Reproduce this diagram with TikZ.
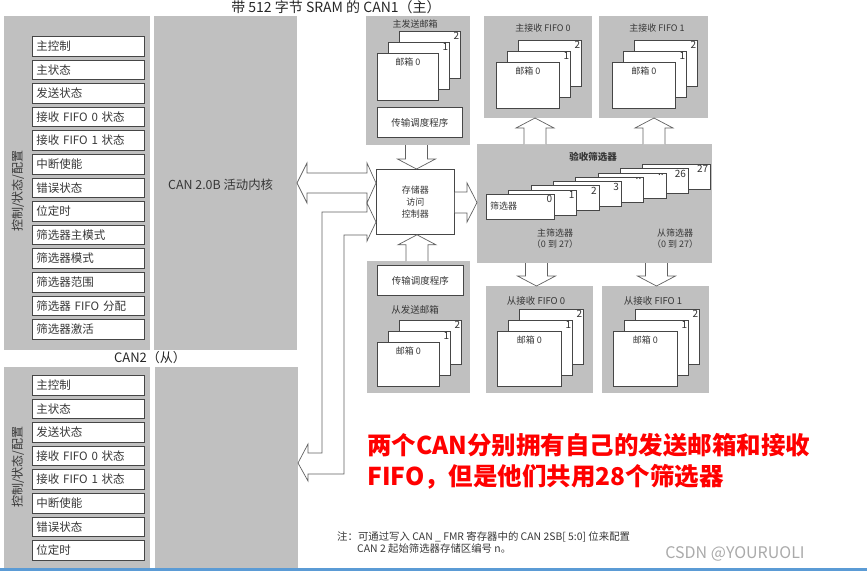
\documentclass[tikz,border=0pt]{standalone}
\usepackage{fontspec}
\setmainfont{Noto Sans CJK SC}
\usetikzlibrary{calc}
\definecolor{panelgray}{RGB}{192,192,192}
\definecolor{edgegray}{RGB}{70,70,70}
\definecolor{textgray}{RGB}{55,55,55}
\definecolor{barblue}{RGB}{91,155,213}
\definecolor{markgray}{RGB}{170,170,170}
% vertical block arrow: x centre, tail anchor, tip anchor, head offset
\newcommand\fatv[4]{%
  \draw[fatarrow] let \p1=(#2), \p2=(#3) in
    (#1pt-11pt,\y1) -- (#1pt-11pt,\y2#4) -- (#1pt-19pt,\y2#4) -- (#1pt,\y2)
    -- (#1pt+19pt,\y2#4) -- (#1pt+11pt,\y2#4) -- (#1pt+11pt,\y1);}
% horizontal block arrow: y centre (canvas), tail anchor, tip anchor, head offset
\newcommand\fath[4]{%
  \draw[fatarrow] let \p1=(#2), \p2=(#3) in
    (\x1,#1pt+10.5pt) -- (\x2#4,#1pt+10.5pt) -- (\x2#4,#1pt+19.5pt) -- (\x2,#1pt)
    -- (\x2#4,#1pt-19.5pt) -- (\x2#4,#1pt-10.5pt) -- (\x1,#1pt-10.5pt);}
% three stacked mailboxes: name, x, y of box 0, width, height
\newcommand\mailstack[5]{%
  \foreach \k in {2,1}
    \node[mailbox,minimum width=#4pt,minimum height=#5pt,
      label={[numlbl,anchor=north east]north east:\k}] (#1\k) at ({#2+11*\k},{#3-11*\k}) {};
  \node[mailbox,minimum width=#4pt,minimum height=#5pt,
    label={[boxlbl,anchor=north,yshift=-5pt]north:邮箱 0}] (#10) at (#2,#3) {};}
\begin{document}
\begin{tikzpicture}[x=1pt,y=-1pt,
  panel/.style={fill=panelgray,draw=none,inner sep=0pt,outer sep=0pt,anchor=north west},
  regbox/.style={draw=edgegray,line width=0.8pt,fill=white,anchor=north west,minimum width=112pt,minimum height=19.5pt,inner xsep=4pt,inner ysep=0pt,text width=104pt,align=left,text=textgray,font=\fontsize{11.5}{13}\selectfont},
  mailbox/.style={draw=edgegray,line width=0.8pt,fill=white,anchor=north west,inner sep=0pt},
  numlbl/.style={inner sep=1.5pt,text=black!80,font=\fontsize{10}{11}\selectfont},
  boxlbl/.style={inner sep=0pt,text=textgray,font=\fontsize{9}{11}\selectfont},
  ttl/.style={inner sep=0pt,text=black!85,font=\fontsize{14}{16}\selectfont},
  sidelbl/.style={inner sep=0pt,rotate=90,text=textgray,font=\fontsize{12}{14}\selectfont},
  fatarrow/.style={draw=edgegray!85,fill=white,line width=0.7pt,line join=miter},
  redtxt/.style={inner sep=0pt,anchor=west,text=red,font=\bfseries\fontsize{24.5}{27}\selectfont},
  notetxt/.style={inner sep=0pt,anchor=west,text=textgray,font=\fontsize{10.4}{12}\selectfont}]
\path[use as bounding box] (0,0) rectangle (867,571);

% CAN1 and CAN2 panels
\node[panel,minimum width=146pt,minimum height=334pt] (cfg1) at (4,16) {};
\node[panel,minimum width=143pt,minimum height=334pt] (core1) at (154,16) {};
\node[panel,minimum width=146pt,minimum height=201pt] (cfg2) at (4,367) {};
\node[panel,minimum width=143pt,minimum height=201pt] (core2) at (155,367) {};
\node[ttl] (can1ttl) at (336,7) {带 512 字节 SRAM 的 CAN1（主）};
\node[ttl,font=\fontsize{13}{15}\selectfont] (can2ttl) at (150,358) {CAN2（从）};
\node[inner sep=0pt,anchor=west,text=textgray,font=\fontsize{12.4}{14}\selectfont] (core1txt) at (168,185) {CAN 2.0B 活动内核};
\node[sidelbl] (side1) at (18,191) {控制/状态/配置};
\node[sidelbl] (side2) at (18,467) {控制/状态/配置};
\foreach \txt [count=\i from 0] in {主控制,主状态,发送状态,接收 FIFO 0 状态,接收 FIFO 1 状态,中断使能,错误状态,位定时,筛选器主模式,筛选器模式,筛选器范围,筛选器 FIFO 分配,筛选器激活}
  \node[regbox] (regA\i) at (32,{36+23.6*\i}) {\txt};
\foreach \txt [count=\i from 0] in {主控制,主状态,发送状态,接收 FIFO 0 状态,接收 FIFO 1 状态,中断使能,错误状态,位定时}
  \node[regbox] (regB\i) at (32,{375+23.6*\i}) {\txt};

% mailboxes and FIFOs
\node[panel,minimum width=104pt,minimum height=129pt] (txmain) at (366,16) {};
\node[panel,minimum width=108pt,minimum height=102pt] (rxm0) at (484,16) {};
\node[panel,minimum width=109pt,minimum height=102pt] (rxm1) at (599,16) {};
\node[panel,minimum width=235pt,minimum height=119pt] (filt) at (477,144) {};
\node[panel,minimum width=107pt,minimum height=107pt] (rxs0) at (486,286) {};
\node[panel,minimum width=107pt,minimum height=107pt] (rxs1) at (602,286) {};
\node[panel,minimum width=103pt,minimum height=132pt] (txslave) at (367,261) {};
\node[boxlbl] (txmainlbl) at (415,24) {主发送邮箱};
\node[boxlbl] (rxm0lbl) at (543,28) {主接收 FIFO 0};
\node[boxlbl] (rxm1lbl) at (657,28) {主接收 FIFO 1};
\node[boxlbl,font=\fontsize{9.5}{11}\selectfont] (rxs0lbl) at (536,301) {从接收 FIFO 0};
\node[boxlbl,font=\fontsize{9.5}{11}\selectfont] (rxs1lbl) at (653,301) {从接收 FIFO 1};
\node[boxlbl,font=\fontsize{9.5}{11}\selectfont] (txslavelbl) at (415,310) {从发送邮箱};
\mailstack{txm}{377}{53}{61}{47}
\mailstack{rxma}{496}{62}{63}{46}
\mailstack{rxmb}{612}{62}{63}{46}
\mailstack{rxsa}{497}{331}{64}{55}
\mailstack{rxsb}{613}{331}{64}{55}
\mailstack{txs}{377}{342}{62}{44}
\node[mailbox,minimum width=85pt,minimum height=30pt,text=textgray,font=\fontsize{9.5}{11}\selectfont] (sched1) at (377,107) {传输调度程序};
\node[mailbox,minimum width=86pt,minimum height=30pt,text=textgray,font=\fontsize{9.5}{11}\selectfont] (sched2) at (377,265) {传输调度程序};
\node[mailbox,minimum width=78pt,minimum height=65pt,align=center,text=textgray,font=\fontsize{9}{12}\selectfont] (mem) at (376,169) {存储器\\访问\\控制器};

% acceptance filters
\node[boxlbl,font=\bfseries\fontsize{9.5}{11}\selectfont] (filtlbl) at (593,157) {验收筛选器};
\foreach \lab/\i in {27/7,26/6,../5,../4,3/3,2/2,1/1,0/0}
  \node[mailbox,minimum width=68pt,minimum height=25pt,
    label={[numlbl,anchor=north east,xshift=-1pt]north east:\lab}] (card\i) at ({486+22.3*\i},{194-4.3*\i}) {};
\node[boxlbl,anchor=west] (cardname) at ([xshift=4pt,yshift=1pt]card0.west) {筛选器};
\node[boxlbl,align=center] (mainflt) at (555,239) {主筛选器\\（0 到 27）};
\node[boxlbl,align=center] (slaveflt) at (675,239) {从筛选器\\（0 到 27）};

% block arrows
\fatv{416.5}{txmain.south}{mem.north}{+10pt}
\fatv{417}{txslave.north}{mem.south}{-10pt}
\fatv{535}{filt.north}{rxm0.south}{-10pt}
\fatv{654}{filt.north}{rxm1.south}{-10pt}
\fatv{536.5}{filt.south}{rxs0.north}{+10pt}
\fatv{656.5}{filt.south}{rxs1.north}{+10pt}
\fath{-202.5}{mem.east}{filt.west}{-10pt}
\draw[fatarrow] let \p1=(core1.east), \p2=(mem.west) in
  (\x1,-183pt) -- (\x1+10pt,-163pt) -- (\x1+10pt,-173pt) -- (\x2-9pt,-173pt) -- (\x2-9pt,-163pt)
  -- (\x2,-183pt) -- (\x2-9pt,-203pt) -- (\x2-9pt,-193pt) -- (\x1+10pt,-193pt) -- (\x1+10pt,-203pt) -- cycle;
\draw[fatarrow] let \p1=(mem.west), \p2=(core2.east) in
  (\x1,-222pt) -- (\x1-9pt,-203pt) -- (\x1-9pt,-212pt) -- (322,212) -- (322,453) -- (\x2+10pt,-453pt)
  -- (\x2+10pt,-444pt) -- (\x2,-463pt) -- (\x2+10pt,-481pt) -- (\x2+10pt,-474pt) -- (344,474)
  -- (344,235) -- (\x1-9pt,-235pt) -- (\x1-9pt,-241pt) -- cycle;

% remarks
\node[redtxt] (red1) at (367,445) {两个CAN分别拥有自己的发送邮箱和接收};
\node[redtxt] (red2) at (367,477) {FIFO，但是他们共用28个筛选器};
\node[notetxt] (fn1) at (337,537) {注：可通过写入 CAN \_ FMR 寄存器中的 CAN 2SB[ 5:0] 位来配置};
\node[notetxt] (fn2) at (357,549) {CAN 2 起始筛选器存储区编号 n。};
\node[inner sep=0pt,text=markgray,font=\fontsize{16}{18}\selectfont] (mark) at (735,554) {CSDN @YOURUOLI};
\fill[barblue] (0,568) rectangle (867,571);
\end{tikzpicture}
\end{document}
